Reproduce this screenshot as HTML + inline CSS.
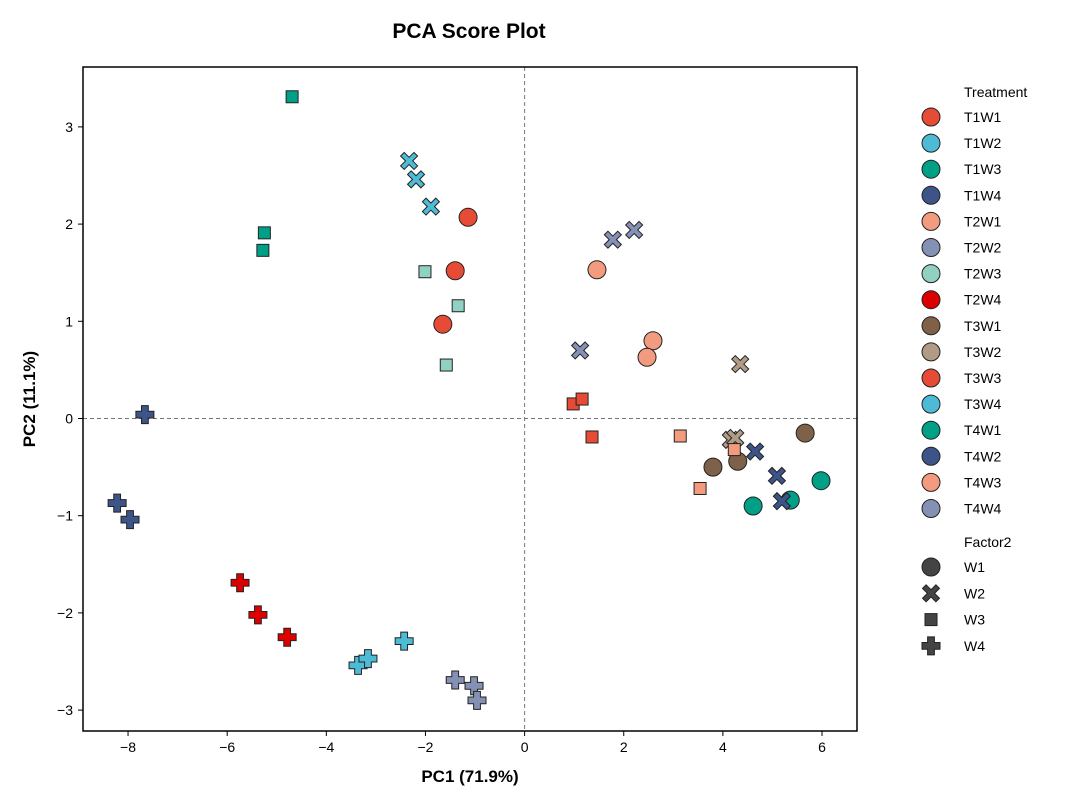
<!DOCTYPE html>
<html><head><meta charset="utf-8"><style>
body{margin:0;background:#fff;}
svg{display:block;font-family:"Liberation Sans",sans-serif;}
</style></head><body>
<svg id="chart" width="1080" height="810"></svg>
<script>
const treatments=["T1W1","T1W2","T1W3","T1W4","T2W1","T2W2","T2W3","T2W4","T3W1","T3W2","T3W3","T3W4","T4W1","T4W2","T4W3","T4W4"];
const colors=["#E64B35","#4DBBD5","#00A087","#3C5488","#F39B7F","#8491B4","#91D1C2","#DC0000","#7E6148","#B09C85","#E64B35","#4DBBD5","#00A087","#3C5488","#F39B7F","#8491B4"];
const shapeOf=["W1","W2","W3","W4","W1","W2","W3","W4","W1","W2","W3","W4","W1","W2","W3","W4"];
const pc1=[[-1.14,-1.40,-1.65],[-2.33,-2.19,-1.89],[-4.69,-5.25,-5.28],[-7.66,-8.22,-7.96],[1.46,2.59,2.47],[1.78,2.21,1.12],[-2.01,-1.34,-1.58],[-5.74,-5.38,-4.79],[3.80,4.30,5.66],[4.35,4.16,4.25],[0.98,1.16,1.36],[-3.36,-3.16,-2.43],[4.61,5.36,5.98],[4.65,5.09,5.19],[3.14,3.54,4.23],[-1.40,-1.02,-0.96]];
const pc2=[[2.07,1.52,0.97],[2.65,2.46,2.18],[3.31,1.91,1.73],[0.04,-0.87,-1.04],[1.53,0.80,0.63],[1.84,1.94,0.70],[1.51,1.16,0.55],[-1.69,-2.02,-2.25],[-0.50,-0.44,-0.15],[0.56,-0.22,-0.20],[0.15,0.20,-0.19],[-2.54,-2.47,-2.29],[-0.90,-0.84,-0.64],[-0.34,-0.59,-0.85],[-0.18,-0.72,-0.32],[-2.69,-2.75,-2.90]];
const xTicks=[-8,-6,-4,-2,0,2,4,6];
const yTicks=[-3,-2,-1,0,1,2,3];
const factorLevels=["W1","W2","W3","W4"];

const NS="http://www.w3.org/2000/svg";
const svg=document.getElementById("chart");
const L=83,R=857,T=67,B=731;
const xS=v=>524.6+v*49.57;
const yS=v=>418.5-v*97.2;
function el(tag,attrs,parent){const e=document.createElementNS(NS,tag);for(const k in attrs)e.setAttribute(k,attrs[k]);(parent||svg).appendChild(e);return e;}
function marker(shape,cx,cy,fill,parent){
  let e;
  if(shape==="W1"){e=el("circle",{cx:cx,cy:cy,r:9,fill:fill,stroke:"#222","stroke-width":1},parent);}
  else if(shape==="W3"){e=el("rect",{x:cx-6,y:cy-6,width:12,height:12,fill:fill,stroke:"#222","stroke-width":1},parent);}
  else if(shape==="W4"){const a=3.4,b=9;
    const p=[[-a,-b],[a,-b],[a,-a],[b,-a],[b,a],[a,a],[a,b],[-a,b],[-a,a],[-b,a],[-b,-a],[-a,-a]].map(q=>(cx+q[0])+","+(cy+q[1])).join(" ");
    e=el("polygon",{points:p,fill:fill,stroke:"#222","stroke-width":1},parent);}
  else {const s=8.5,w=3.6;
    const p=[[0,-w],[s-w,-s],[s,-s+w],[w,0],[s,s-w],[s-w,s],[0,w],[-s+w,s],[-s,s-w],[-w,0],[-s,-s+w],[-s+w,-s]].map(q=>(cx+q[0])+","+(cy+q[1])).join(" ");
    e=el("polygon",{points:p,fill:fill,stroke:"#222","stroke-width":1},parent);}
  return e;
}
let t=el("text",{x:469,y:38,"text-anchor":"middle","font-size":21,"font-weight":"bold",fill:"#000"});t.textContent="PCA Score Plot";


let g=el("g",{});


el("line",{x1:xS(0),x2:xS(0),y1:T,y2:B,stroke:"#777","stroke-dasharray":"4,3","stroke-width":1},g);
el("line",{x1:L,x2:R,y1:yS(0),y2:yS(0),stroke:"#777","stroke-dasharray":"4,3","stroke-width":1},g);
const pts=el("g",{});


treatments.forEach((tr,i)=>{
  for(let j=0;j<pc1[i].length;j++){
    const m=marker(shapeOf[i],xS(pc1[i][j]),yS(pc2[i][j]),colors[i],pts);
    
    
  }
});
let f=el("rect",{x:L,y:T,width:R-L,height:B-T,fill:"none",stroke:"#000","stroke-width":1.5});


const xa=el("g",{});


xTicks.forEach(v=>{const x=xS(v);el("line",{x1:x,x2:x,y1:B,y2:B+5,stroke:"#000"},xa);
  const tt=el("text",{x:x,y:B+21,"text-anchor":"middle","font-size":14},xa);tt.textContent=v<0?"\u2212"+(-v):v;});
const ya=el("g",{});


yTicks.forEach(v=>{const y=yS(v);el("line",{x1:L-5,x2:L,y1:y,y2:y,stroke:"#000"},ya);
  const tt=el("text",{x:L-10,y:y+5,"text-anchor":"end","font-size":14},ya);tt.textContent=v<0?"\u2212"+(-v):v;});
let xl=el("text",{x:470,y:782,"text-anchor":"middle","font-size":17,"font-weight":"bold"});xl.textContent="PC1 (71.9%)";


let yl=el("text",{x:0,y:0,"text-anchor":"middle","font-size":17,"font-weight":"bold",transform:"translate(35,399) rotate(-90)"});yl.textContent="PC2 (11.1%)";


const lg=el("g",{});


let h=el("text",{x:964,y:97,"font-size":14},lg);h.textContent="Treatment";
treatments.forEach((tr,i)=>{const y=117+i*26.1;
  const m=marker("W1",931,y,colors[i],lg);
  
  
  const tx=el("text",{x:964,y:y+5,"font-size":14},lg);tx.textContent=tr;
  
  
});
let h2=el("text",{x:964,y:547,"font-size":14},lg);h2.textContent="Factor2";
factorLevels.forEach((f2,i)=>{const y=567+i*26.3;
  const m=marker(f2,931,y,"#444",lg);
  
  
  const tx=el("text",{x:964,y:y+5,"font-size":14},lg);tx.textContent=f2;
  
  
});
</script>
</body></html>
